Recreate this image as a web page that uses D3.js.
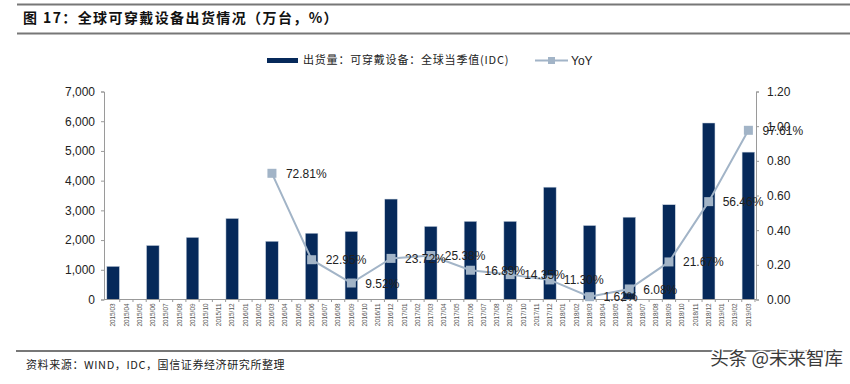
<!DOCTYPE html>
<html>
<head>
<meta charset="utf-8">
<script src="https://cdn.jsdelivr.net/npm/d3@7"></script>
<style>
  body { margin: 0; background: #fff; }
  svg { display: block; }
</style>
</head>
<body>
<div id="chart"></div>
<script>
var months = [
    "2015/03", "2015/04", "2015/05", "2015/06", "2015/07", "2015/08", "2015/09", "2015/10", "2015/11", "2015/12",
    "2016/01", "2016/02", "2016/03", "2016/04", "2016/05", "2016/06", "2016/07", "2016/08", "2016/09", "2016/10",
    "2016/11", "2016/12", "2017/01", "2017/02", "2017/03", "2017/04", "2017/05", "2017/06", "2017/07", "2017/08",
    "2017/09", "2017/10", "2017/11", "2017/12", "2018/01", "2018/02", "2018/03", "2018/04", "2018/05", "2018/06",
    "2018/07", "2018/08", "2018/09", "2018/10", "2018/11", "2018/12", "2019/01", "2019/02", "2019/03"
];

// 出货量（万台），季度
var shipMonths = ["2015/03", "2015/06", "2015/09", "2015/12", "2016/03", "2016/06", "2016/09", "2016/12",
    "2017/03", "2017/06", "2017/09", "2017/12", "2018/03", "2018/06", "2018/09", "2018/12", "2019/03"];
var shipValues = [1115, 1818, 2090, 2727, 1960, 2230, 2290, 3380,
    2460, 2630, 2630, 3780, 2490, 2770, 3190, 5940, 4960];

// YoY
var yoyMonths = ["2016/03", "2016/06", "2016/09", "2016/12", "2017/03", "2017/06", "2017/09", "2017/12",
    "2018/03", "2018/06", "2018/09", "2018/12", "2019/03"];
var yoyValues = [0.7281, 0.2295, 0.0952, 0.2372, 0.2538, 0.1689, 0.1435, 0.1130,
    0.0162, 0.0608, 0.2167, 0.5646, 0.9761];

var leftTicks = [0, 1000, 2000, 3000, 4000, 5000, 6000, 7000];
var rightTicks = [0, 0.2, 0.4, 0.6, 0.8, 1.0, 1.2];

var width = 850, height = 384;
var barColor = "#06295a", lineColor = "#a2b4c7";
var font = "Arial, 'Liberation Sans', sans-serif";
var cjk = "'Noto Sans CJK SC', sans-serif";

var svg = d3.select("#chart").append("svg")
    .attr("width", width)
    .attr("height", height);

// title block
svg.append("line").attr("x1", 17).attr("x2", 850).attr("y1", 4.5).attr("y2", 4.5)
    .attr("stroke", "#777").attr("stroke-width", 2);
svg.append("line").attr("x1", 17).attr("x2", 850).attr("y1", 33.5).attr("y2", 33.5)
    .attr("stroke", "#777").attr("stroke-width", 2);
svg.append("text")
    .attr("x", 23).attr("y", 23)
    .attr("font-family", cjk).attr("font-size", 14).attr("font-weight", "bold")
    .attr("letter-spacing", 1.4)
    .attr("fill", "#111")
    .text("图 17：全球可穿戴设备出货情况（万台，%）");

var x = d3.scaleBand().domain(months).range([106.5, 755]).paddingInner(0.05).paddingOuter(0.025);
var xb = d3.scaleBand().domain(months).range([106.5, 755]);
var y = d3.scaleLinear().domain([0, 7000]).range([299.5, 91.5]);
var y2 = d3.scaleLinear().domain([0, 1.2]).range([299.5, 91.5]);

// bars
svg.append("g").selectAll("rect")
    .data(shipValues)
    .join("rect")
    .attr("x", function (d, i) { return x(shipMonths[i]); })
    .attr("y", function (d) { return y(d); })
    .attr("width", x.bandwidth())
    .attr("height", function (d) { return y(0) - y(d); })
    .attr("fill", barColor)
    .attr("stroke", "#c9d3e0").attr("stroke-width", 0.5);

// left axis
var yAxis = d3.axisLeft(y).tickValues(leftTicks).tickSize(3).tickFormat(d3.format(","));
var gl = svg.append("g").attr("transform", "translate(104,0)").call(yAxis);
gl.selectAll("text").attr("font-family", font).attr("font-size", 12).attr("fill", "#222").attr("x", -9);

// right axis
var y2Axis = d3.axisRight(y2).tickValues(rightTicks).tickSize(3).tickFormat(d3.format(".2f"));
var gr = svg.append("g").attr("transform", "translate(756,0)").call(y2Axis);
gr.selectAll("text").attr("font-family", font).attr("font-size", 12).attr("fill", "#222").attr("x", 11);

// bottom axis
var xAxis = d3.axisBottom(xb).tickSize(0).tickSizeOuter(0);
var gx = svg.append("g").attr("transform", "translate(0,299.5)").call(xAxis);
gx.selectAll("text")
    .attr("font-family", font).attr("font-size", 6.4).attr("fill", "#555")
    .attr("transform", "rotate(-90)")
    .attr("text-anchor", "end")
    .attr("x", -4).attr("y", 0).attr("dy", "0.35em");
gx.select(".domain").attr("d", "M104,0H756");
// category boundary ticks
gx.append("g").selectAll("line")
    .data(months)
    .join("line")
    .attr("x1", function (d) { return xb(d) + xb.bandwidth(); })
    .attr("x2", function (d) { return xb(d) + xb.bandwidth(); })
    .attr("y1", 0).attr("y2", 2.5)
    .attr("stroke", "#999");

svg.selectAll(".domain").attr("stroke", "#9a9a9a");
svg.selectAll(".tick line").attr("stroke", "#9a9a9a");

// YoY line
var line = d3.line()
    .x(function (d, i) { return xb(yoyMonths[i]) + xb.bandwidth() / 2; })
    .y(function (d) { return y2(d); });
svg.append("path")
    .datum(yoyValues)
    .attr("d", line)
    .attr("fill", "none")
    .attr("stroke", lineColor)
    .attr("stroke-width", 2);
svg.append("g").selectAll("rect")
    .data(yoyValues)
    .join("rect")
    .attr("x", function (d, i) { return xb(yoyMonths[i]) + xb.bandwidth() / 2 - 4.5; })
    .attr("y", function (d) { return y2(d) - 4.5; })
    .attr("width", 9).attr("height", 9)
    .attr("fill", lineColor);
svg.append("g").selectAll("text")
    .data(yoyValues)
    .join("text")
    .attr("x", function (d, i) { return xb(yoyMonths[i]) + xb.bandwidth() / 2 + 14; })
    .attr("y", function (d) { return y2(d); })
    .attr("dy", "0.38em")
    .attr("font-family", font).attr("font-size", 12).attr("fill", "#222")
    .text(function (d) { return d3.format(".2f")(d * 100) + "%"; });

// legend
var lg = svg.append("g");
lg.append("rect").attr("x", 267).attr("y", 58).attr("width", 31).attr("height", 5).attr("fill", barColor);
lg.append("text").attr("x", 303).attr("y", 60.5).attr("dy", "0.35em")
    .attr("font-family", cjk).attr("font-size", 11).attr("fill", "#222")
    .attr("letter-spacing", 0.8)
    .text("出货量：可穿戴设备：全球当季值(IDC)");
lg.append("line").attr("x1", 535).attr("x2", 568).attr("y1", 60.5).attr("y2", 60.5)
    .attr("stroke", lineColor).attr("stroke-width", 2);
lg.append("rect").attr("x", 548).attr("y", 57).attr("width", 7).attr("height", 7).attr("fill", lineColor);
lg.append("text").attr("x", 571).attr("y", 60.5).attr("dy", "0.35em")
    .attr("font-family", font).attr("font-size", 12).attr("fill", "#222")
    .text("YoY");

// footer
svg.append("line").attr("x1", 16).attr("x2", 840).attr("y1", 351).attr("y2", 351)
    .attr("stroke", "#777").attr("stroke-width", 2);
svg.append("text").attr("x", 26).attr("y", 365).attr("dy", "0.35em")
    .attr("font-family", cjk).attr("font-size", 11).attr("fill", "#222")
    .attr("letter-spacing", 0.6)
    .text("资料来源：WIND，IDC，国信证券经济研究所整理");
svg.append("text").attr("x", 843).attr("y", 359).attr("dy", "0.35em")
    .attr("text-anchor", "end")
    .attr("font-family", cjk).attr("font-size", 18.5).attr("fill", "#3a3a3a")
    .attr("stroke", "#fff").attr("stroke-width", 3).attr("paint-order", "stroke")
    .text("头条 @未来智库");
</script>
</body>
</html>
